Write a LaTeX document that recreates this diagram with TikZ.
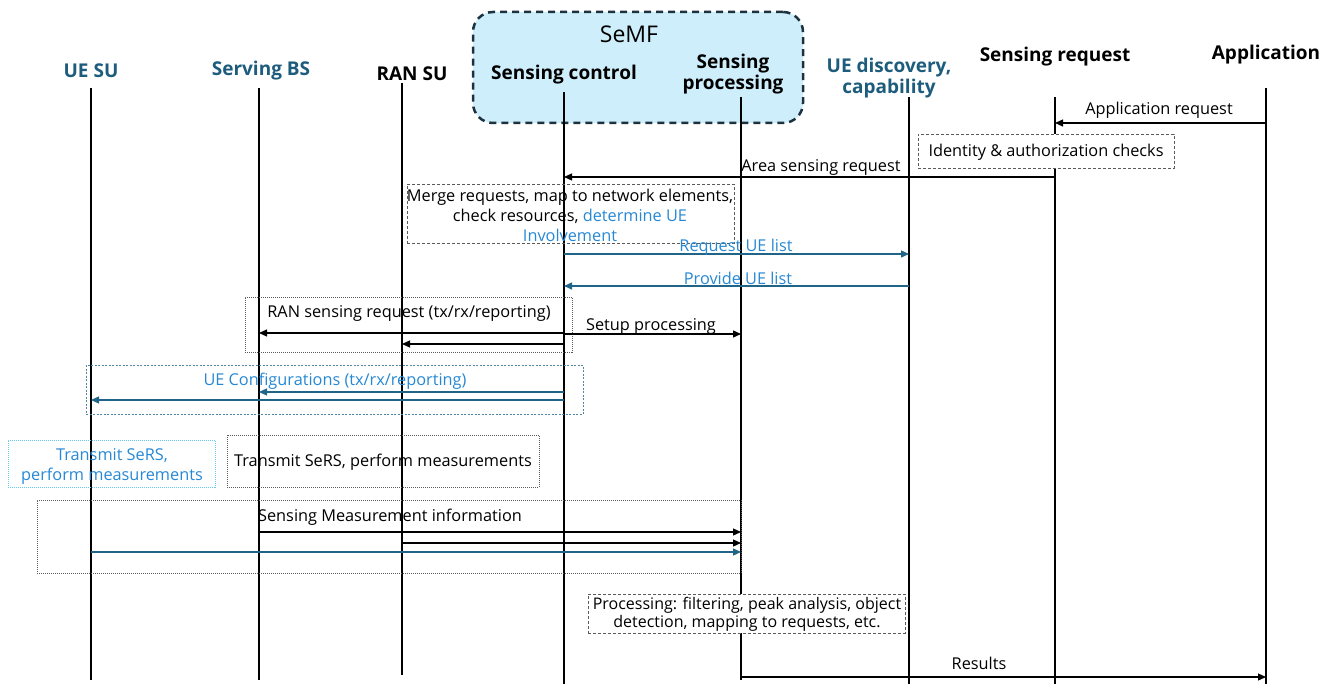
\documentclass[tikz,border=0pt]{standalone}
\usepackage{fontspec}
\setmainfont{Open Sans}
\usetikzlibrary{arrows.meta}
\definecolor{hteal}{RGB}{30,92,125}
\definecolor{ateal}{RGB}{32,100,135}
\definecolor{lblue}{RGB}{38,136,212}
\definecolor{semffill}{RGB}{205,238,250}
\definecolor{semfline}{RGB}{28,50,64}
\definecolor{cyanbox}{RGB}{100,205,240}
\definecolor{tealbox}{RGB}{80,135,165}
\definecolor{graybox}{RGB}{90,90,90}
\begin{document}
\begin{tikzpicture}[x=1pt,y=-1pt,
  life/.style={line width=1.4pt,black},
  msg/.style={line width=1.2pt,black,-{Triangle[length=8pt,width=7pt]}},
  tmsg/.style={msg,draw=ateal,-{Triangle[length=8pt,width=7pt,fill=ateal]}},
  head/.style={font=\fontsize{19}{22}\selectfont\bfseries,align=center,inner sep=0pt,yshift=-2pt},
  lbl/.style={font=\fontsize{16.3}{20}\selectfont,inner sep=0pt,yshift=-1.5pt},
  dbox/.style={draw=graybox,line width=0.9pt,dash pattern=on 3pt off 2pt},
  obox/.style={draw=graybox,line width=0.8pt,dash pattern=on 1pt off 1pt},
]
\useasboundingbox (0,0) rectangle (1335,684);

% SeMF container
\node[draw=semfline,fill=semffill,line width=2.5pt,dash pattern=on 7pt off 5pt,
  rounded corners=20pt,minimum width=330pt,minimum height=111pt,inner sep=0pt]
  (semf) at (638,67.5) {};
\node[font=\fontsize{23}{27}\selectfont,inner sep=0pt,yshift=-1.5pt] (semflbl) at (629,33) {SeMF};

% lifeline x positions
\coordinate (ue) at (91,0);
\coordinate (bs) at (259,0);
\coordinate (ran) at (402,0);
\coordinate (sc) at (564,0);
\coordinate (sp) at (741,0);
\coordinate (ud) at (909,0);
\coordinate (sr) at (1055,0);
\coordinate (app) at (1266,0);

% headers
\node[head,text=hteal] (hue) at (91,69) {UE SU};
\node[head,text=hteal] (hbs) at (261,69) {Serving BS};
\node[head] (hran) at (412,72) {RAN SU};
\node[head] (hsc) at (564,73) {Sensing control};
\node[head] (hsp) at (733,72) {Sensing\\[-1pt]processing};
\node[head,text=hteal] (hud) at (889,76) {UE discovery,\\[-1pt]capability};
\node[head] (hsr) at (1055,55) {Sensing request};
\node[head] (happ) at (1266,53) {Application};

% lifelines
\draw[life] (ue |- 0,88) -- (ue |- 0,680);
\draw[life] (bs |- 0,88) -- (bs |- 0,680);
\draw[life] (ran |- 0,83) -- (ran |- 0,675);
\draw[life] (sc |- 0,92) -- (sc |- 0,684);
\draw[life] (sp |- 0,97) -- (sp |- 0,680);
\draw[life] (ud |- 0,97) -- (ud |- 0,684);
\draw[life] (sr |- 0,97) -- (sr |- 0,684);
\draw[life] (app |- 0,88) -- (app |- 0,684);

% Application request
\draw[msg] (app |- 0,123) -- (sr |- 0,123);
\node[lbl] (lapp) at (1159,109) {Application request};

% Identity box
\node[dbox,fill=white,minimum width=256pt,minimum height=34pt,inner sep=0pt] (idbox) at (1046,151) {};
\node[lbl] (lid) at (1046,151) {Identity \& authorization checks};

% Area sensing request
\draw[msg] (sr |- 0,177) -- (sc |- 0,177);
\node[lbl] (larea) at (821,166) {Area sensing request};

% Merge box
\node[dbox,minimum width=327pt,minimum height=59pt,inner sep=0pt] (mbox) at (570.5,213.5) {};
\node[lbl,align=center] (lmerge) at (570,214) {Merge requests, map to network elements,\\[0pt]
  check resources, \textcolor{lblue}{determine UE}\\[0pt]\textcolor{lblue}{Involvement}};

% UE list
\draw[tmsg] (sc |- 0,254) -- (ud |- 0,254);
\node[lbl,text=lblue] (lreq) at (736,246) {Request UE list};
\draw[tmsg] (ud |- 0,286) -- (sc |- 0,286);
\node[lbl,text=lblue] (lprov) at (738,277) {Provide UE list};

% RAN sensing request
\node[obox,minimum width=327pt,minimum height=55pt,inner sep=0pt] (rbox) at (408.5,324.5) {};
\node[lbl] (lran) at (409,312) {RAN sensing request (tx/rx/reporting)};
\draw[msg] (sc |- 0,333) -- (bs |- 0,333);
\draw[msg] (sc |- 0,344) -- (ran |- 0,344);

% Setup processing
\draw[msg] (sc |- 0,334) -- (sp |- 0,334);
\node[lbl] (lsetup) at (651,325) {Setup processing};

% UE configurations
\node[draw=tealbox,line width=0.9pt,dash pattern=on 2pt off 1.5pt,minimum width=497pt,minimum height=49pt,inner sep=0pt] (cbox) at (334.5,389.5) {};
\node[lbl,text=lblue] (lconf) at (335,380) {UE Configurations (tx/rx/reporting)};
\draw[tmsg] (sc |- 0,392) -- (bs |- 0,392);
\draw[tmsg] (sc |- 0,400) -- (ue |- 0,400);

% Transmit SeRS boxes
\node[draw=cyanbox,line width=0.9pt,dash pattern=on 1pt off 1pt,minimum width=207pt,minimum height=47pt,inner sep=0pt] (tbox1) at (111.5,463.5) {};
\node[lbl,text=lblue,align=center] (lt1) at (112,464.5) {Transmit SeRS,\\[0pt]perform measurements};
\node[obox,minimum width=312pt,minimum height=52pt,inner sep=0pt] (tbox2) at (383,461) {};
\node[lbl] (lt2) at (383,461) {Transmit SeRS, perform measurements};

% Sensing measurement information
\node[obox,minimum width=704pt,minimum height=73pt,inner sep=0pt] (smbox) at (389,536.5) {};
\node[lbl] (lsm) at (390,516) {Sensing Measurement information};
\draw[msg] (bs |- 0,532) -- (sp |- 0,532);
\draw[msg] (ran |- 0,543) -- (sp |- 0,543);
\draw[tmsg] (ue |- 0,552) -- (sp |- 0,552);

% Processing box
\node[dbox,fill=white,minimum width=317pt,minimum height=39pt,inner sep=0pt] (pbox) at (746.5,613.5) {};
\node[font=\fontsize{16}{19}\selectfont,align=center,inner sep=0pt,yshift=-1pt] (lproc) at (747,613.5)
  {Processing: filtering, peak analysis, object\\[-1pt]detection, mapping to requests, etc.};

% Results
\draw[msg] (sp |- 0,677) -- (app |- 0,677);
\node[lbl] (lres) at (979,662) {Results};
\end{tikzpicture}
\end{document}
